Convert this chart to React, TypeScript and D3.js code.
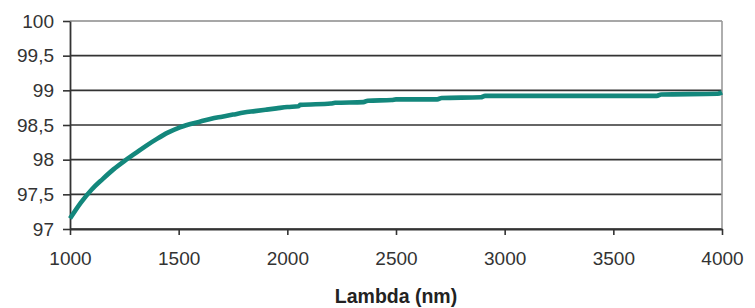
import React, { useEffect, useRef } from "react";
import * as d3 from "d3";

const lambda = [
  1000, 1050, 1100, 1150, 1200, 1250, 1300, 1350, 1400, 1450, 1500, 1550, 1600, 1650, 1700, 1750, 1800, 1850,
  1900, 1950, 2000, 2050, 2060, 2200, 2220, 2350, 2370, 2480, 2500, 2690, 2710, 2890, 2910, 3300, 3700, 3720,
  3980, 4000,
];
const transmission = [
  97.15, 97.38, 97.57, 97.72, 97.86, 97.98, 98.09, 98.2, 98.3, 98.39, 98.46, 98.51, 98.55, 98.59, 98.62, 98.65,
  98.68, 98.7, 98.72, 98.74, 98.76, 98.77, 98.79, 98.81, 98.82, 98.83, 98.85, 98.86, 98.87, 98.87, 98.89, 98.9,
  98.92, 98.92, 98.92, 98.94, 98.95, 98.97,
];
const xTicks = [1000, 1500, 2000, 2500, 3000, 3500, 4000];
const yTicks = [97, 97.5, 98, 98.5, 99, 99.5, 100];
const xTitle = "Lambda (nm)";

const App = () => {
  const ref = useRef<SVGSVGElement | null>(null);

  useEffect(() => {
    if (!ref.current) return;
    const svg = d3.select(ref.current);
    svg.selectAll("*").remove();

    const left = 70;
    const right = 722;
    const top = 21;
    const bottom = 229;

    const x = d3.scaleLinear().domain([1000, 4000]).range([left, right]);
    const y = d3.scaleLinear().domain([97, 100]).range([bottom, top]);
    const fmt = (v: number) => String(v).replace(".", ",");

    // gridlines
    svg
      .append("g")
      .selectAll("line")
      .data(yTicks)
      .join("line")
      .attr("x1", left)
      .attr("x2", right)
      .attr("y1", (d) => y(d))
      .attr("y2", (d) => y(d))
      .attr("stroke", (d) => (d === 100 ? "#8a8a8a" : "#333"))
      .attr("stroke-width", 1.6);

    // right border
    svg
      .append("line")
      .attr("x1", right)
      .attr("x2", right)
      .attr("y1", top)
      .attr("y2", bottom)
      .attr("stroke", "#9a9a9a")
      .attr("stroke-width", 1.6);

    // y axis
    const yAxis = svg
      .append("g")
      .attr("transform", `translate(${left},0)`)
      .call(d3.axisLeft(y).tickValues(yTicks).tickSize(7).tickSizeOuter(0).tickPadding(9).tickFormat((d) => fmt(+d)));

    // x axis
    const xAxis = svg
      .append("g")
      .attr("transform", `translate(0,${bottom})`)
      .call(d3.axisBottom(x).tickValues(xTicks).tickSize(6).tickSizeOuter(0).tickPadding(17).tickFormat((d) => String(d)));

    [yAxis, xAxis].forEach((g) => {
      g.select(".domain").attr("stroke", "#333").attr("stroke-width", 1.8);
      g.selectAll(".tick line").attr("stroke", "#333").attr("stroke-width", 1.6);
      g.selectAll(".tick text")
        .attr("fill", "#333")
        .style("font-family", "'Liberation Sans', Arial, sans-serif")
        .style("font-size", "19px");
    });

    // curve
    const line = d3
      .line<number>()
      .x((d, i) => x(lambda[i]))
      .y((d) => y(d))
      .curve(d3.curveMonotoneX);

    svg
      .append("path")
      .datum(transmission)
      .attr("fill", "none")
      .attr("stroke", "#13877c")
      .attr("stroke-width", 4.6)
      .attr("stroke-linejoin", "round")
      .attr("d", line);

    // x title
    svg
      .append("text")
      .attr("x", (left + right) / 2)
      .attr("y", 303)
      .attr("text-anchor", "middle")
      .attr("fill", "#222")
      .style("font-family", "'Liberation Sans', Arial, sans-serif")
      .style("font-size", "19.5px")
      .style("font-weight", "bold")
      .text(xTitle);
  }, []);

  return (
    <svg
      ref={ref}
      width={755}
      height={308}
      style={{ position: "absolute", left: 0, top: 0, background: "#fff" }}
    />
  );
};

export default App;
